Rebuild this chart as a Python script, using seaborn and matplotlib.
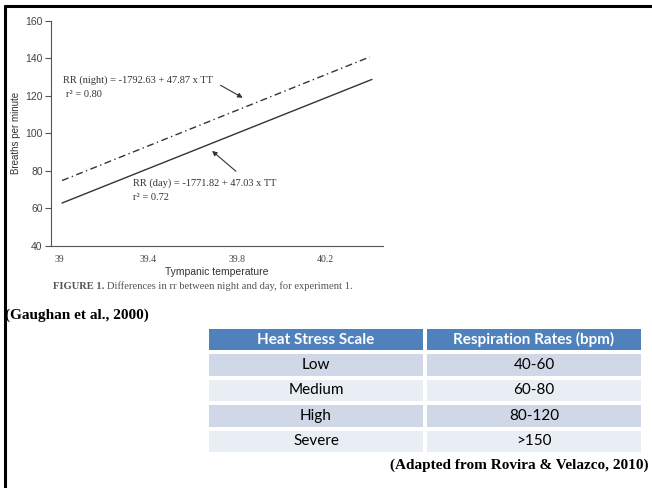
import seaborn as sns
import numpy as np
import matplotlib.pyplot as plt
import pandas as pd
from matplotlib.colors import ListedColormap
from matplotlib.lines import Line2D

# regression lines (end points)
night_temp = [39.01, 40.40]
night_rr = [74.8, 140.8]
day_temp = [39.01, 40.41]
day_rr = [62.8, 128.8]

x_ticks = [39, 39.4, 39.8, 40.2]
y_ticks = [40, 60, 80, 100, 120, 140, 160]

night_eq = 'RR (night) = -1792.63 + 47.87 x TT'
night_r2 = 'r\u00b2 = 0.80'
day_eq = 'RR (day) = -1771.82 + 47.03 x TT'
day_r2 = 'r\u00b2 = 0.72'

table_header = ['Heat Stress Scale', 'Respiration Rates (bpm)']
stress_levels = ['Low', 'Medium', 'High', 'Severe']
resp_rates = ['40-60', '60-80', '80-120', '>150']

df = pd.DataFrame({
    'temp': night_temp + day_temp,
    'rr': night_rr + day_rr,
    'period': ['night'] * len(night_temp) + ['day'] * len(day_temp),
})

sns.set_style('white')
serif = 'Liberation Serif'
sans = 'Liberation Sans'

W, H = 652, 488
fig = plt.figure(figsize=(W / 100, H / 100), dpi=100)
ax = fig.add_axes([51 / W, 1 - 245.7 / H, 332 / W, 224.7 / H])

sns.lineplot(data=df, x='temp', y='rr', hue='period', style='period',
             palette={'night': '#333333', 'day': '#333333'},
             dashes={'night': (5, 2.5, 1, 2.5), 'day': ''},
             linewidth=1, legend=False, ax=ax)

ax.set_xlim(38.96, 40.46)
ax.set_ylim(40, 160)
ax.set_yticks(y_ticks)
ax.set_xticks(x_ticks)
ax.set_xticklabels([str(t) for t in x_ticks], family=serif, fontsize=7, color='#444444')
ax.set_xticks(np.arange(38.96, 40.47, 0.1), minor=True)
ax.tick_params(axis='x', which='major', length=0, pad=7)
ax.tick_params(axis='x', which='minor', direction='in', length=3.5, width=0.8, color='#555555')
ax.tick_params(axis='y', direction='out', length=4, width=0.8, color='#555555',
               labelsize=7.5, labelcolor='#444444', pad=2, left=True)
for lab in ax.get_yticklabels():
    lab.set_family(sans)
for s in ['top', 'right']:
    ax.spines[s].set_visible(False)
for s in ['left', 'bottom']:
    ax.spines[s].set_color('#555555')
    ax.spines[s].set_linewidth(0.8)

ax.set_xlabel('Tympanic temperature', family=sans, fontsize=7.5, color='#333333', labelpad=2)
ax.set_ylabel('Breaths per minute', family=sans, fontsize=7, color='#333333', labelpad=3)

ax.text(39.014, 128.5, night_eq, family=serif, fontsize=7.5, color='#333333', va='center')
ax.text(39.028, 120.5, night_r2, family=serif, fontsize=7.5, color='#333333', va='center')
ax.text(39.33, 73.5, day_eq, family=serif, fontsize=7.5, color='#333333', va='center')
ax.text(39.33, 66.0, day_r2, family=serif, fontsize=7.5, color='#333333', va='center')
ax.annotate('', xy=(39.837, 118.3), xytext=(39.715, 126.4),
            arrowprops=dict(arrowstyle='-|>', color='#333333', lw=0.8, mutation_scale=7))
ax.annotate('', xy=(39.678, 91.6), xytext=(39.805, 78.8),
            arrowprops=dict(arrowstyle='-|>', color='#333333', lw=0.8, mutation_scale=7))

# caption: bold lead-in followed by plain text
cap1 = fig.text(53 / W, 1 - 286.5 / H, 'FIGURE 1.', family=serif, fontsize=7.6,
                weight='bold', color='#555555', va='center')
fig.canvas.draw()
x_end = cap1.get_window_extent().x1 / fig.bbox.width
fig.text(x_end + 3 / W, 1 - 286.5 / H,
         'Differences in rr between night and day, for experiment 1.',
         family=serif, fontsize=7.6, color='#555555', va='center')

fig.text(5 / W, 1 - 315 / H, '(Gaughan et al., 2000)', family=serif, fontsize=11,
         weight='bold', color='black', va='center')
fig.text(648 / W, 1 - 465 / H, '(Adapted from Rovira & Velazco, 2010)', family=serif,
         fontsize=11, weight='bold', color='black', va='center', ha='right')

# table drawn as a heatmap
cells = [table_header] + [[a, b] for a, b in zip(stress_levels, resp_rates)]
shade = np.array([[0, 0]] + [[1 + i % 2] * 2 for i in range(len(stress_levels))])
tax = fig.add_axes([207 / W, 1 - 454 / H, 436 / W, 127 / H])
sns.heatmap(shade, cmap=ListedColormap(['#4F81BD', '#D0D8E8', '#E9EDF4']),
            vmin=-0.5, vmax=2.5, cbar=False, annot=np.array(cells), fmt='',
            annot_kws={'fontsize': 11, 'family': 'Lato', 'color': 'black'},
            linewidths=1.5, linecolor='white', xticklabels=False, yticklabels=False, ax=tax)
for t in tax.texts[:2]:
    t.set_color('white')
    t.set_weight('bold')
    t.set_fontsize(11)

fig.add_artist(Line2D([4.5 / W, 1], [1 - 6 / H, 1 - 6 / H], color='black', lw=2.2,
                      transform=fig.transFigure))
fig.add_artist(Line2D([5 / W, 5 / W], [0, 1 - 6 / H], color='black', lw=2.2,
                      transform=fig.transFigure))

fig.savefig('out.png', dpi=100)
